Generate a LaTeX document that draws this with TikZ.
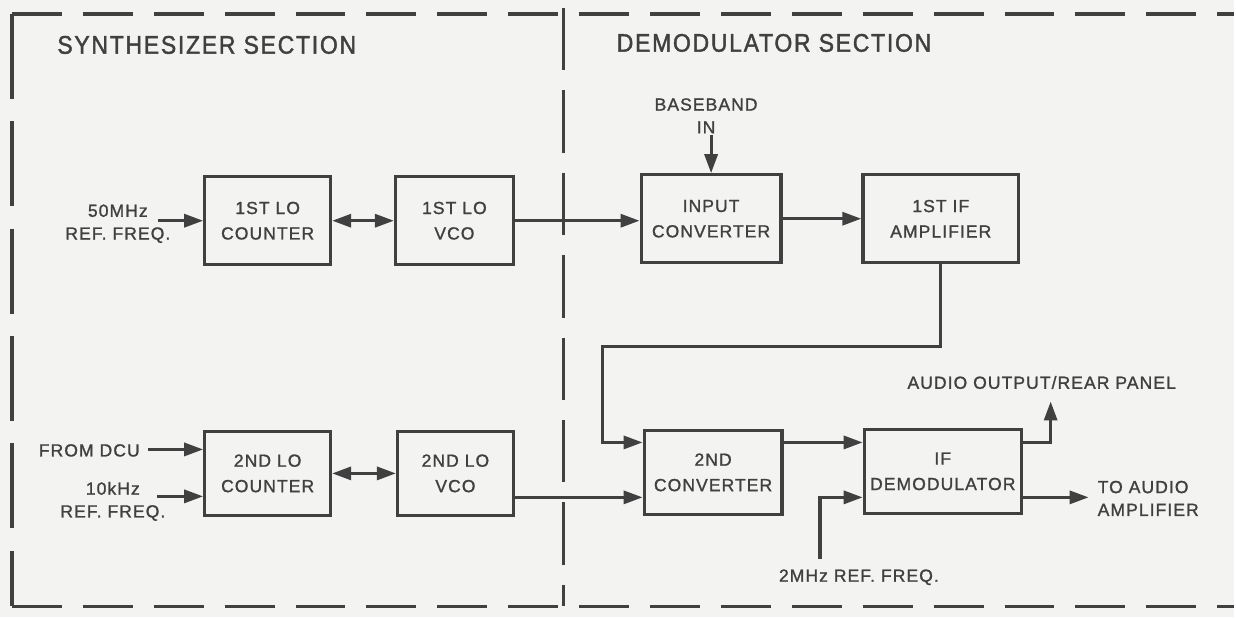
\documentclass[tikz,border=0pt]{standalone}
\usepackage{fontspec}
\usepackage{tikz}
\usetikzlibrary{arrows.meta,calc}
\newfontfamily\blkfont{Liberation Sans}[LetterSpace=6, FakeBold=1.2]
\newfontfamily\secfont{Liberation Sans}[LetterSpace=7, FakeBold=1.6, FakeStretch=0.9]
\definecolor{ink}{HTML}{404040}
\definecolor{paper}{HTML}{F3F3F1}
\tikzset{
  blk/.style={draw=ink, line width=1.8pt, minimum height=1.76cm, align=center,
    text=ink, font=\blkfont\fontsize{10}{14.5}\selectfont},
  lbl/.style={text=ink, align=center, inner sep=1pt, font=\blkfont\fontsize{10}{13}\selectfont},
  seclbl/.style={text=ink, font=\secfont\fontsize{14.5}{16}\selectfont},
  tip/.style={-{Triangle[length=0.38cm,width=0.26cm]}},
  sig/.style={draw=ink, line width=1.8pt, tip},
  both/.style={draw=ink, line width=1.8pt, {Triangle[length=0.38cm,width=0.26cm]}-{Triangle[length=0.38cm,width=0.26cm]}},
  frame/.style={draw=ink, line width=1.8pt}
}
\begin{document}
\begin{tikzpicture}[x=0.02cm, y=-0.02cm]
\fill[paper] (0,0) rectangle (1236,618);

% section frame
\draw[frame, dash pattern=on 1cm off 0.42cm] (12,14) -- (1236,14);
\draw[frame, dash pattern=on 1cm off 0.42cm] (12,607) -- (1236,607);
\draw[frame, dash pattern=on 1.7cm off 0.45cm] (12,14) -- (12,607);
\draw[frame, dash pattern=on 1.25cm off 0.4cm] (564,8) -- (564,607);
\node[seclbl] (synsec) at (207,45) {SYNTHESIZER SECTION};
\node[seclbl] (demsec) at (775,43) {DEMODULATOR SECTION};

% blocks
\node[blk, minimum width=2.52cm] (cnt1) at (268,221) {1ST LO\\COUNTER};
\node[blk, minimum width=2.36cm] (vco1) at (455,221) {1ST LO\\VCO};
\node[blk, minimum width=2.8cm] (inconv) at (712,219) {INPUT\\CONVERTER};
\node[blk, minimum width=3.12cm] (ifamp) at (942,219) {1ST IF\\AMPLIFIER};
\node[blk, minimum width=2.52cm, minimum height=1.68cm] (cnt2) at (268,474) {2ND LO\\COUNTER};
\node[blk, minimum width=2.32cm, minimum height=1.68cm] (vco2) at (456,474) {2ND LO\\VCO};
\node[blk, minimum width=2.76cm, minimum height=1.68cm] (conv2) at (714,473) {2ND\\CONVERTER};
\node[blk, minimum width=3.14cm, minimum height=1.68cm] (ifdem) at (944,472) {IF\\DEMODULATOR};

% outside labels
\node[lbl] (ref50) at (118,224) {50MHz\\REF. FREQ.};
\node[lbl] (bband) at (707,116) {BASEBAND\\IN};
\node[lbl, anchor=east] (dcu) at (142,451) {FROM DCU};
\node[lbl] (ref10) at (113,502) {10kHz\\REF. FREQ.};
\node[lbl] (ref2) at (860,578) {2MHz REF. FREQ.};
\node[lbl] (audout) at (1043,383) {AUDIO OUTPUT/REAR PANEL};
\node[lbl, align=left, anchor=west] (toaud) at (1097,499) {TO AUDIO\\AMPLIFIER};

% port rows and free ends
\coordinate (rowa) at (0,443);
\coordinate (rowb) at (0,498);
\coordinate (in50) at (158,221);
\coordinate (indcu) at (148,450);
\coordinate (in10) at (157,497);
\coordinate (fbk) at (603,347);
\coordinate (in2m) at (821,560);
\coordinate (outaud) at (1052,402);
\coordinate (outamp) at (1090,498);

% connectors
\draw[sig] (in50) -- (cnt1.west |- in50);
\draw[both] (cnt1) -- (vco1);
\draw[sig] (vco1.east) -- (inconv.west |- vco1.east);
\draw[sig] (bband.south -| inconv.north) -- (inconv.north);
\draw[sig] (inconv) -- (ifamp);
\draw[sig] (ifamp.south) |- (fbk) |- (conv2.west |- rowa);
\draw[sig] (indcu) -- (cnt2.west |- indcu);
\draw[sig] (in10) -- (cnt2.west |- in10);
\draw[both] (cnt2) -- (vco2);
\draw[sig] (vco2.east |- rowb) -- (conv2.west |- rowb);
\draw[sig] (conv2.east |- rowa) -- (ifdem.west |- rowa);
\draw[sig] (in2m) |- (ifdem.west |- rowb);
\draw[sig] (ifdem.east |- rowa) -| (outaud);
\draw[sig] (ifdem.east |- rowb) -- (outamp);
\end{tikzpicture}
\end{document}
